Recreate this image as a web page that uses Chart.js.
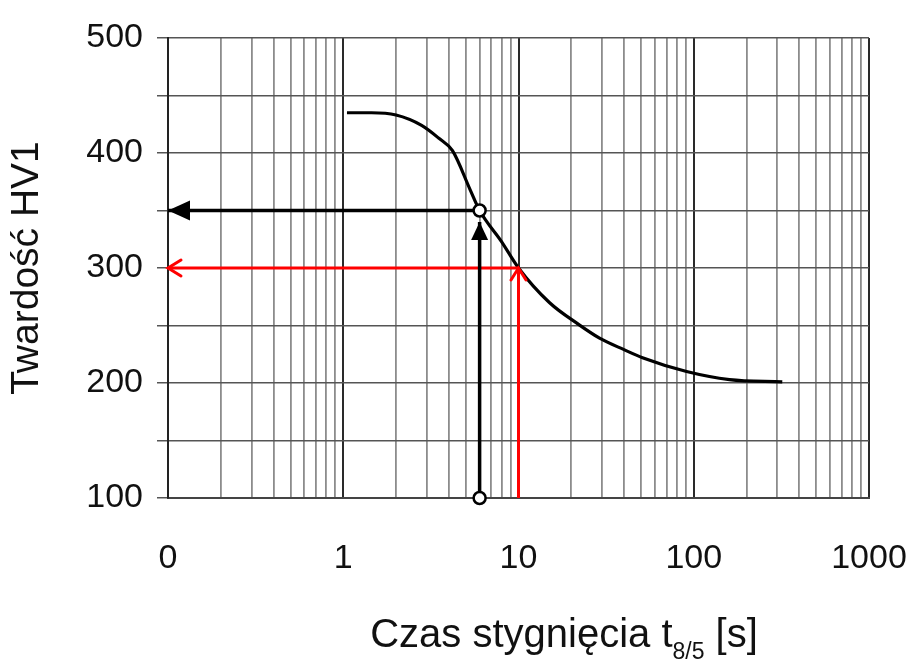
<!DOCTYPE html>
<html>
<head>
<meta charset="utf-8">
<script src="https://cdn.jsdelivr.net/npm/chart.js@4.4.1/dist/chart.umd.min.js"></script>
<style>
  html, body { margin: 0; padding: 0; background: #fff; }
  canvas { display: block; }
</style>
</head>
<body>
<canvas id="chart" width="912" height="660"></canvas>
<script>
// krzywa: twardość HV1 w funkcji czasu stygnięcia t8/5
const coolingTime = [1.05, 1.45, 2, 2.8, 3.5, 4.2, 5.3, 6, 8, 10, 15, 22, 29, 40, 51, 91, 160, 320];
const hardness = [435, 435, 433, 424, 413, 402, 368, 350, 323, 300, 270, 251, 239, 229, 222, 210, 203, 201];

// odczyty (strzałki)
const blackUpT = [6, 6];
const blackUpHV = [100, 340];
const blackLeftT = [6, 0.1];
const blackLeftHV = [350, 350];
const redUpT = [10, 10];
const redUpHV = [100, 300];
const redLeftT = [10, 0.1];
const redLeftHV = [300, 300];
const markerT = [6, 6];
const markerHV = [350, 100];

// siatka osi X (log)
const xTickValues = [
  0.1, 0.2, 0.3, 0.4, 0.5, 0.6, 0.7, 0.8, 0.9,
  1, 2, 3, 4, 5, 6, 7, 8, 9,
  10, 20, 30, 40, 50, 60, 70, 80, 90,
  100, 200, 300, 400, 500, 600, 700, 800, 900,
  1000
];
const decadeValues = [0.1, 1, 10, 100, 1000];
const decadeLabels = ["0", "1", "10", "100", "1000"];

const FONT = '"Liberation Sans", Arial, sans-serif';

const pts = (xs, ys) => xs.map((x, i) => ({ x, y: ys[i] }));

const arrowHeads = {
  id: "arrowHeads",
  afterDatasetsDraw(chart) {
    const ctx = chart.ctx;
    chart.data.datasets.forEach((ds, i) => {
      if (!ds.arrow) return;
      const els = chart.getDatasetMeta(i).data;
      const a = els[els.length - 2], b = els[els.length - 1];
      const ang = Math.atan2(b.y - a.y, b.x - a.x);
      const L = ds.arrowLength, W = ds.arrowWidth;
      ctx.save();
      ctx.translate(b.x, b.y);
      ctx.rotate(ang);
      ctx.fillStyle = ds.borderColor;
      ctx.strokeStyle = ds.borderColor;
      if (ds.arrow === "filled") {
        ctx.beginPath();
        ctx.moveTo(0, 0);
        ctx.lineTo(-L, -W / 2);
        ctx.lineTo(-L, W / 2);
        ctx.closePath();
        ctx.fill();
      } else {
        ctx.lineWidth = ds.borderWidth;
        ctx.lineCap = "round";
        ctx.beginPath();
        ctx.moveTo(-L, -W / 2);
        ctx.lineTo(0, 0);
        ctx.lineTo(-L, W / 2);
        ctx.stroke();
      }
      ctx.restore();
    });
  }
};

const xTitle = {
  id: "xTitle",
  afterDraw(chart) {
    const { ctx, chartArea } = chart;
    const main = "Czas stygnięcia t", sub = "8/5", tail = " [s]";
    const big = "40px " + FONT, small = "23px " + FONT;
    ctx.save();
    ctx.fillStyle = "#111";
    ctx.textBaseline = "alphabetic";
    ctx.font = big;
    const w1 = ctx.measureText(main).width;
    const w3 = ctx.measureText(tail).width;
    ctx.font = small;
    const w2 = ctx.measureText(sub).width;
    const cx = chartArea.left + 396;
    let x = cx - (w1 + w2 + w3) / 2;
    const y = 647;
    ctx.font = big;
    ctx.fillText(main, x, y);
    x += w1;
    ctx.font = small;
    ctx.fillText(sub, x, y + 12);
    x += w2;
    ctx.font = big;
    ctx.fillText(tail, x, y);
    ctx.restore();
  }
};

const ctx = document.getElementById("chart").getContext("2d");

new Chart(ctx, {
  type: "line",
  data: {
    datasets: [
      {
        data: pts(markerT, markerHV),
        showLine: false,
        pointRadius: 6,
        pointBorderWidth: 2.5,
        pointBackgroundColor: "#fff",
        pointBorderColor: "#000",
        clip: false
      },
      {
        data: pts(blackUpT, blackUpHV),
        borderColor: "#000",
        borderWidth: 3.5,
        pointRadius: 0,
        arrow: "filled",
        arrowLength: 18,
        arrowWidth: 17
      },
      {
        data: pts(blackLeftT, blackLeftHV),
        borderColor: "#000",
        borderWidth: 3.5,
        pointRadius: 0,
        arrow: "filled",
        arrowLength: 22,
        arrowWidth: 20
      },
      {
        data: pts(redUpT, redUpHV),
        borderColor: "#ff0000",
        borderWidth: 3,
        pointRadius: 0,
        arrow: "open",
        arrowLength: 12,
        arrowWidth: 15
      },
      {
        data: pts(redLeftT, redLeftHV),
        borderColor: "#ff0000",
        borderWidth: 3,
        pointRadius: 0,
        arrow: "open",
        arrowLength: 13,
        arrowWidth: 16
      },
      {
        data: pts(coolingTime, hardness),
        borderColor: "#000",
        borderWidth: 3.2,
        pointRadius: 0,
        cubicInterpolationMode: "monotone"
      }
    ]
  },
  options: {
    responsive: false,
    animation: false,
    devicePixelRatio: 1,
    layout: { padding: { top: 38, right: 43, left: 0, bottom: 0 } },
    plugins: {
      legend: { display: false },
      tooltip: { enabled: false }
    },
    scales: {
      x: {
        type: "logarithmic",
        min: 0.1,
        max: 1000,
        afterBuildTicks(scale) {
          scale.ticks = xTickValues.map(v => ({ value: v }));
        },
        afterFit(scale) {
          scale.height = 162;
          scale.paddingLeft = 0;
          scale.paddingRight = 0;
        },
        ticks: {
          autoSkip: false,
          maxRotation: 0,
          padding: 40,
          color: "#111",
          font: { family: FONT, size: 34 },
          callback(value) {
            const i = decadeValues.indexOf(value);
            return i >= 0 ? decadeLabels[i] : "";
          }
        },
        grid: {
          drawTicks: false,
          color(c) {
            return decadeValues.includes(c.tick.value) ? "#2a2a2a" : "#8c8c8c";
          },
          lineWidth(c) {
            return decadeValues.includes(c.tick.value) ? 2 : 1.8;
          }
        },
        border: { display: true, color: "#444", width: 2 }
      },
      y: {
        min: 100,
        max: 500,
        afterFit(scale) {
          scale.width = 168;
          scale.paddingTop = 0;
          scale.paddingBottom = 0;
        },
        ticks: {
          stepSize: 50,
          padding: 14,
          color: "#111",
          font: { family: FONT, size: 34 },
          callback(value) {
            return value % 100 === 0 ? String(value) : "";
          }
        },
        grid: {
          color: "#555",
          lineWidth: 1.5,
          tickLength: 11
        },
        border: { display: true, color: "#222", width: 2 },
        title: {
          display: true,
          text: "Twardość HV1",
          color: "#111",
          font: { family: FONT, size: 39 },
          padding: { top: 4, bottom: 0 }
        }
      }
    }
  },
  plugins: [arrowHeads, xTitle]
});
</script>
</body>
</html>
